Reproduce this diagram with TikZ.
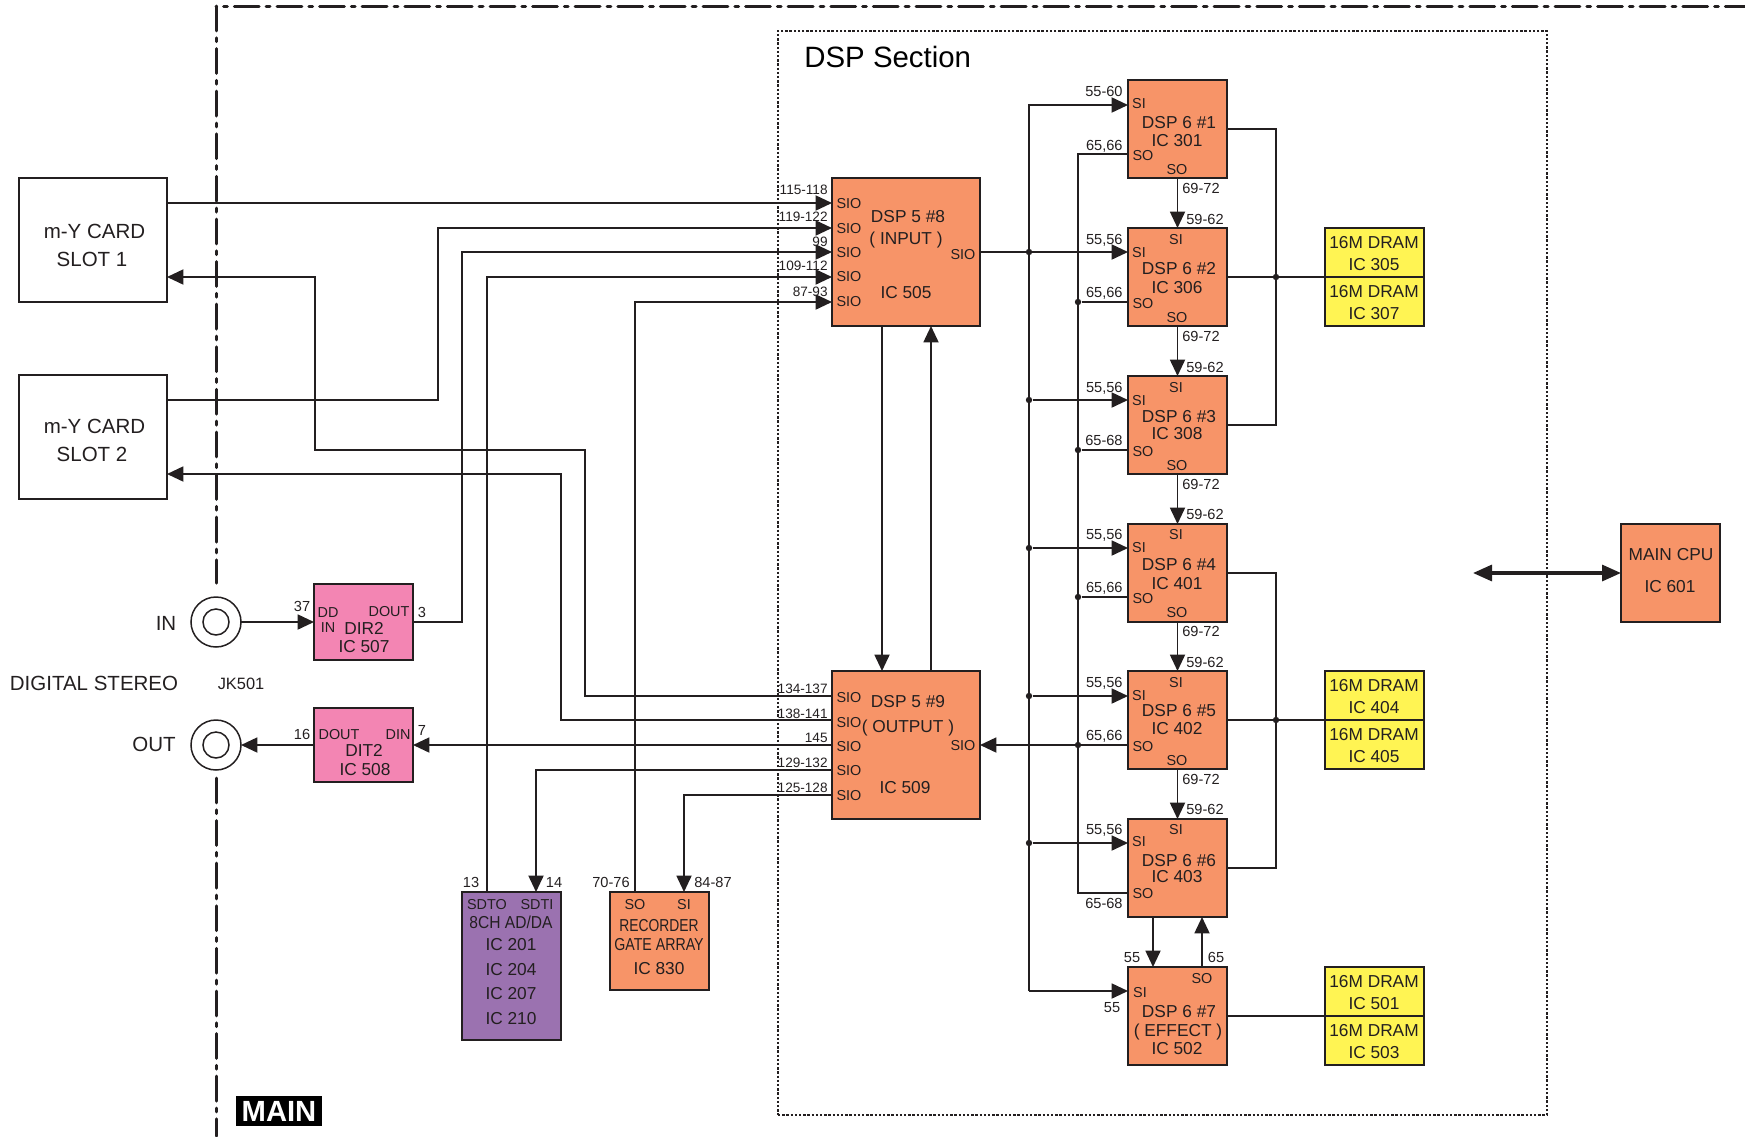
\documentclass[tikz,border=0pt]{standalone}
\usepackage{fontspec}
\setmainfont{Liberation Sans}
\usetikzlibrary{arrows.meta}
\definecolor{ink}{HTML}{231F20}
\definecolor{orangebox}{HTML}{F79468}
\definecolor{pinkbox}{HTML}{F385B3}
\definecolor{yellowbox}{HTML}{FFF453}
\definecolor{purplebox}{HTML}{9B72B0}
\tikzset{
  wire/.style={draw=ink,line width=.95pt,line join=miter},
  arr/.style={wire,-{Triangle[length=8.2pt,width=7.5pt]}},
  both/.style={draw=ink,line width=1.6pt,{Triangle[length=9.5pt,width=8pt]}-{Triangle[length=9.5pt,width=8pt]}},
  box/.style={draw=ink,line width=.95pt,inner sep=0,outer sep=0,minimum width=49.5pt,minimum height=49pt},
  bigbox/.style={box,fill=orangebox,minimum width=74pt,minimum height=74pt},
  dspbox/.style={box,fill=orangebox},
  slotbox/.style={box,fill=white,minimum width=74pt,minimum height=62pt},
  pinkic/.style={box,fill=pinkbox,minimum height=37pt},
  dram/.style={box,fill=yellowbox,minimum height=24.5pt},
  dot/.style={circle,fill=ink,inner sep=0,minimum size=3.2pt},
  jack/.style={circle,draw=ink,line width=.75pt,inner sep=0,outer sep=0,minimum size=25pt},
  jackin/.style={jack,minimum size=13pt},
  tiny/.style={inner sep=0,text=ink,font=\fontsize{7.3}{8}\selectfont,text height=5.2pt,text depth=0pt},
  tinier/.style={tiny,font=\fontsize{6.8}{8}\selectfont},
  pin/.style={inner sep=0,text=ink,font=\fontsize{7.2}{8}\selectfont,text height=5.2pt,text depth=0pt},
  med/.style={inner sep=0,text=ink,font=\fontsize{8.65}{10}\selectfont,text height=6.2pt,text depth=0pt},
  big/.style={inner sep=0,text=ink,font=\fontsize{10.25}{12}\selectfont,text height=7.3pt,text depth=0pt},
  mainline/.style={draw=ink,line width=1.5pt,line cap=round,dash pattern=on 12.4pt off 3.5pt on 1.9pt off 3.5pt},
  section/.style={draw=ink,line width=.7pt,dash pattern=on 1.2pt off .9pt},
}
\begin{document}
\begin{tikzpicture}[x=0.5pt,y=-0.5pt]
\useasboundingbox (0,0) rectangle (1745,1136);
% frames
\coordinate (mtr) at (1745,6); \coordinate (mc) at (216,6); \coordinate (mb1) at (216,583);
\coordinate (mb2) at (216,778); \coordinate (mb3) at (216,1136);
\draw[mainline,dash phase=12.1pt] (mc) -- (mtr);
\draw[mainline] (mc) -- (mb1);
\draw[mainline] (mb2) -- (mb3);
\node[section,inner sep=0,outer sep=0,minimum width=384.5pt,minimum height=542pt] (sect) at (1162.5,573) {};
\node[inner sep=0,text=black,font=\fontsize{14.7}{16}\selectfont,text height=10.5pt,text depth=0pt,anchor=west] (secttitle) at (804,57) {DSP Section};
\node[inner sep=0,fill=black,text=white,font=\bfseries\fontsize{14.6}{16}\selectfont,minimum width=43pt,minimum height=15pt] (mainlab) at (279,1111) {MAIN};
% left boxes
\node[slotbox] (slot1) at (93,240) {};
\node[slotbox] (slot2) at (93,437) {};
\node[big] (s1a) at (94.5,231) {m-Y CARD}; \node[big] (s1b) at (92,259) {SLOT 1};
\node[big] (s2a) at (94.5,426) {m-Y CARD}; \node[big] (s2b) at (92,454) {SLOT 2};
% jacks
\node[jack] (jin) at (216,622) {}; \node[jackin] (jinc) at (216,622) {};
\node[jack] (jout) at (216,745) {}; \node[jackin] (joutc) at (216,745) {};
\node[big] (lin) at (166,623) {IN}; \node[big] (lout) at (154,744) {OUT};
\node[big] (ldig) at (94,683) {DIGITAL STEREO}; \node[med,font=\fontsize{8.2}{10}\selectfont] (ljk) at (241,683) {JK501};
% DIR2 / DIT2
\node[pinkic,minimum height=38pt] (dir) at (363.5,622) {};
\node[pinkic] (dit) at (363.5,745) {};
\node[tiny] at (302,606) {37}; \node[pin] at (328,612) {DD}; \node[pin] at (328,627) {IN};
\node[pin] at (389,611) {DOUT}; \node[med] at (364,628) {DIR2}; \node[med] at (364,646) {IC 507};
\node[tiny] at (422,612) {3};
\node[tiny] at (302,734) {16}; \node[pin] at (339,734) {DOUT}; \node[pin] at (398,734) {DIN};
\node[med] at (364,750) {DIT2}; \node[med] at (365,769) {IC 508}; \node[tiny] at (422,730) {7};
% AD/DA and recorder
\node[box,fill=purplebox,minimum height=74pt] (adda) at (511.5,966) {};
\node[dspbox] (rec) at (659.5,941) {};
\node[tiny] at (471,882) {13}; \node[tiny] at (554,882) {14};
\node[tiny] at (611,882) {70-76}; \node[tiny] at (713,882) {84-87};
\node[pin] at (487,904) {SDTO}; \node[pin] at (537,904) {SDTI};
\node[med] at (511,922) {\scalebox{.9}[1]{8CH AD/DA}};
\node[med] at (511,944) {IC 201}; \node[med] at (511,969) {IC 204};
\node[med] at (511,993) {IC 207}; \node[med] at (511,1018) {IC 210};
\node[pin] at (635,904) {SO}; \node[pin] at (684,904) {SI};
\node[med] at (659,925) {\scalebox{.8}[1]{RECORDER}};
\node[med] at (659,944) {\scalebox{.82}[1]{GATE ARRAY}};
\node[med] at (659,968) {IC 830};
% DSP5
\node[bigbox] (d8) at (906,252) {};
\node[bigbox] (d9) at (906,745) {};
\foreach \y/\t in {189/115-118,216/119-122,241/99,265/109-112,291/87-93,688/134-137,713/138-141,737/145,762/129-132,787/125-128}
  \node[tinier,anchor=east] at (828,\y) {\t};
\foreach \y in {203,228,252,276,301,697,722,746,770,795}
  \node[pin] at (849,\y) {SIO};
\node[med] at (908,216) {DSP 5 \#8}; \node[med] at (906,238) {( INPUT )};
\node[med] at (906,292) {IC 505}; \node[pin] at (963,254) {SIO};
\node[med] at (908,701) {DSP 5 \#9}; \node[med] at (908,726) {( OUTPUT )};
\node[med] at (905,787) {IC 509}; \node[pin] at (963,745) {SIO};
% DSP6
\node[dspbox] (s1) at (1177.5,129) {};
\node[dspbox] (s2) at (1177.5,277) {};
\node[dspbox] (s3) at (1177.5,425) {};
\node[dspbox] (s4) at (1177.5,573) {};
\node[dspbox] (s5) at (1177.5,720) {};
\node[dspbox] (s6) at (1177.5,868) {};
\node[dspbox] (s7) at (1177.5,1016) {};
% DSP6 #1 texts
\node[pin] at (1139,103) {SI}; \node[med] at (1179,122) {DSP 6 \#1}; \node[med] at (1177,140) {IC 301};
\node[pin] at (1143,155) {SO}; \node[pin] at (1177,169) {SO};
\node[tiny,anchor=east] at (1123,91) {55-60}; \node[tiny,anchor=east] at (1123,145) {65,66};
\node[tiny] at (1201,188) {69-72};
\foreach \T/\n/\ic/\lab/\dy/\iy in {228/2/306/{65,66}/40/59,376/3/308/{65-68}/40/57,523/4/401/{65,66}/41/60,671/5/402/{65,66}/39/57}{
  \node[pin] at (1176,\T+11) {SI};
  \node[pin] at (1139,\T+24) {SI};
  \node[med] at (1179,\T+\dy) {DSP 6 \#\n};
  \node[med] at (1177,\T+\iy) {IC \ic};
  \node[pin] at (1143,\T+75) {SO};
  \node[pin] at (1177,\T+89) {SO};
  \node[tiny,anchor=east] at (1123,\T+11) {55,56};
  \node[tiny,anchor=east] at (1123,\T+64) {\lab};
  \node[tiny] at (1205,\T-9) {59-62};
  \node[tiny] at (1201,\T+108) {69-72};
}
\node[pin] at (1176,829) {SI}; \node[pin] at (1139,841) {SI};
\node[med] at (1179,860) {DSP 6 \#6}; \node[med] at (1177,876) {IC 403};
\node[pin] at (1143,893) {SO};
\node[tiny,anchor=east] at (1123,829) {55,56}; \node[tiny,anchor=east] at (1123,903) {65-68};
\node[tiny] at (1205,809) {59-62};
\node[pin] at (1202,978) {SO}; \node[pin] at (1140,992) {SI};
\node[med] at (1179,1011) {DSP 6 \#7}; \node[med] at (1178,1030) {( EFFECT )}; \node[med] at (1177,1048) {IC 502};
\node[tiny] at (1132,957) {55}; \node[tiny] at (1216,957) {65}; \node[tiny] at (1112,1007) {55};
% DRAM
\foreach \nm/\T/\a/\b in {a/228/305/307,b/671/404/405,c/967/501/503}{
  \node[dram] (dr\nm1) at (1374.5,\T+24.5) {};
  \node[dram] (dr\nm2) at (1374.5,\T+73.5) {};
  \node[med] at (1374,\T+14.5) {16M DRAM}; \node[med] at (1374,\T+36) {IC \a};
  \node[med] at (1374,\T+63) {16M DRAM}; \node[med] at (1374,\T+85) {IC \b};
}
% CPU
\node[dspbox] (cpu) at (1670.5,573) {};
\node[med] at (1671,554) {MAIN CPU}; \node[med] at (1670,586) {IC 601};
\coordinate (cpuend) at (1473,573);
\draw[both] (cpuend) -- (cpu.west);
% dots
\foreach \n/\x/\y in {a/1029/252,b/1029/400,c/1029/548,d/1029/696,e/1029/843,f/1078/302,g/1078/450,h/1078/597,i/1078/745,j/1276/277,k/1276/720}
  \node[dot] (dot\n) at (\x,\y) {};
% buses
\coordinate (b1t) at (1029,105); \coordinate (b1b) at (1029,991);
\coordinate (b2t) at (1078,154); \coordinate (b2b) at (1078,893);
\draw[arr] (b1b) -- (b1t) -- (s1.west |- b1t);
\draw[arr] (b1b) -- (s7.west |- b1b);
\draw[wire] (s1.west |- b2t) -- (b2t) -- (b2b) -- (s6.west |- b2b);
\draw[arr] (d8.east |- dota) -- (s2.west |- dota);
\draw[arr] (dotb) -- (s3.west |- dotb);
\draw[arr] (dotc) -- (s4.west |- dotc);
\draw[arr] (dotd) -- (s5.west |- dotd);
\draw[arr] (dote) -- (s6.west |- dote);
\draw[wire] (dotf) -- (s2.west |- dotf);
\draw[wire] (dotg) -- (s3.west |- dotg);
\draw[wire] (doth) -- (s4.west |- doth);
\draw[arr] (s5.west |- doti) -- (d9.east |- doti);
% chain
\draw[arr] (s1.south) -- (s2.north);
\draw[arr] (s2.south) -- (s3.north);
\draw[arr] (s3.south) -- (s4.north);
\draw[arr] (s4.south) -- (s5.north);
\draw[arr] (s5.south) -- (s6.north);
\coordinate (c6a) at (1153,917); \coordinate (c6b) at (1202,917);
\draw[arr] (c6a) -- (s7.north -| c6a);
\draw[arr] (s7.north -| c6b) -- (c6b);
% DRAM links
\coordinate (r1) at (1276,129); \coordinate (r2) at (1276,425);
\draw[wire] (s1.east) -- (r1) -- (r2) -- (s3.east);
\draw[wire] (s2.east) -- (dra1.south west);
\coordinate (r3) at (1276,573); \coordinate (r4) at (1276,868);
\draw[wire] (s4.east) -- (r3) -- (r4) -- (s6.east);
\draw[wire] (s5.east) -- (drb1.south west);
\draw[wire] (s7.east) -- (drc1.south west);
% DSP 5 links
\coordinate (m1) at (882,326); \coordinate (m2) at (931,671);
\draw[arr] (m1) -- (d9.north -| m1);
\draw[arr] (m2) -- (d8.south -| m2);
% inputs
\coordinate (p1) at (832,203); \coordinate (p2) at (832,228); \coordinate (p3) at (832,252);
\coordinate (p4) at (832,277); \coordinate (p5) at (832,302);
\draw[arr] (slot1.east |- p1) -- (p1);
\coordinate (w2a) at (438,400); \coordinate (w2b) at (438,228);
\draw[arr] (slot2.east |- w2a) -- (w2a) -- (w2b) -- (p2);
\coordinate (w3a) at (462,622); \coordinate (w3b) at (462,252);
\draw[arr] (jin.east) -- (dir.west);
\draw[arr] (dir.east) -- (w3a) -- (w3b) -- (p3);
\coordinate (w4a) at (487,892); \coordinate (w4b) at (487,277);
\draw[arr] (w4a) -- (w4b) -- (p4);
\coordinate (w5a) at (635,892); \coordinate (w5b) at (635,302);
\draw[arr] (w5a) -- (w5b) -- (p5);
% outputs
\coordinate (q1) at (832,696); \coordinate (q2) at (832,720); \coordinate (q3) at (832,745);
\coordinate (q4) at (832,770); \coordinate (q5) at (832,795);
\coordinate (o1a) at (585,696); \coordinate (o1b) at (585,450); \coordinate (o1c) at (315,450); \coordinate (o1d) at (315,277);
\draw[arr] (q1) -- (o1a) -- (o1b) -- (o1c) -- (o1d) -- (slot1.east |- o1d);
\coordinate (o2a) at (561,720); \coordinate (o2b) at (561,474);
\draw[arr] (q2) -- (o2a) -- (o2b) -- (slot2.east |- o2b);
\draw[arr] (q3) -- (dit.east);
\draw[arr] (dit.west) -- (jout.east);
\coordinate (o4a) at (536,770); \coordinate (o4b) at (536,892);
\draw[arr] (q4) -- (o4a) -- (o4b);
\coordinate (o5a) at (684,795); \coordinate (o5b) at (684,892);
\draw[arr] (q5) -- (o5a) -- (o5b);
\end{tikzpicture}
\end{document}
